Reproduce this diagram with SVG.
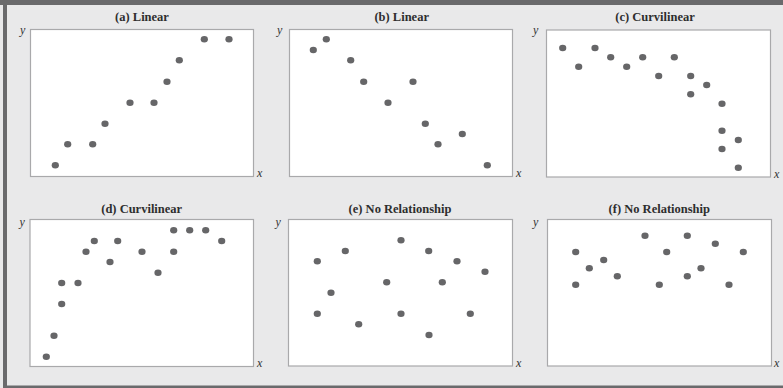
<svg xmlns="http://www.w3.org/2000/svg" width="783" height="388" viewBox="0 0 783 388">
<style>
.bg{fill:#e9e9ea}
.bar{fill:#6a6a6c}
.box{fill:#ffffff;stroke:#a9a9ab;stroke-width:1.2}
.t{font-family:"Liberation Serif","Times New Roman",serif;font-weight:bold;font-size:12.5px;fill:#2e2e2e;text-anchor:middle}
.ax{font-family:"Liberation Serif","Times New Roman",serif;font-style:italic;font-size:12px;fill:#333}
.d{fill:#666668}
</style>
<defs>
<ellipse id="p" rx="3.6" ry="3.2"/>
</defs>
<rect class="bg" x="0" y="0" width="783" height="388"/>
<rect class="bar" x="0" y="0" width="783" height="5"/>
<rect class="bar" x="3" y="0" width="4" height="388"/>
<rect class="bar" x="3" y="385.5" width="780" height="2.5"/>

<g id="panel-a">
<text class="t" x="142" y="20.5">(a) Linear</text>
<rect class="box" x="30.5" y="29.5" width="223" height="147"/>
<text class="ax" x="20" y="34">y</text>
<text class="ax" x="257" y="177">x</text>
<g class="d">
<use href="#p" x="55.3" y="165.3"/><use href="#p" x="67.7" y="144.3"/><use href="#p" x="92.7" y="144.3"/>
<use href="#p" x="105" y="123.7"/><use href="#p" x="130" y="102.7"/><use href="#p" x="154" y="102.7"/>
<use href="#p" x="167" y="81.7"/><use href="#p" x="179.3" y="60.3"/><use href="#p" x="204.3" y="39.3"/>
<use href="#p" x="229" y="39.3"/>
</g>
</g>

<g id="panel-b">
<text class="t" x="401.7" y="20.5">(b) Linear</text>
<rect class="box" x="289.5" y="29.5" width="223" height="147"/>
<text class="ax" x="277" y="34">y</text>
<text class="ax" x="516" y="177">x</text>
<g class="d">
<use href="#p" x="313.3" y="50"/><use href="#p" x="326.3" y="39.3"/><use href="#p" x="350.7" y="60.3"/>
<use href="#p" x="363.7" y="81.7"/><use href="#p" x="413" y="81.7"/><use href="#p" x="388" y="102.7"/>
<use href="#p" x="425.3" y="123.7"/><use href="#p" x="438" y="144.3"/><use href="#p" x="462.3" y="134"/>
<use href="#p" x="487.3" y="165.3"/>
</g>
</g>

<g id="panel-c">
<text class="t" x="655" y="20.5">(c) Curvilinear</text>
<rect class="box" x="546.5" y="30" width="224" height="147"/>
<text class="ax" x="533" y="34">y</text>
<text class="ax" x="774" y="177.5">x</text>
<g class="d">
<use href="#p" x="562.7" y="48"/><use href="#p" x="578.7" y="66.7"/><use href="#p" x="595" y="48"/>
<use href="#p" x="610.7" y="57.3"/><use href="#p" x="626.7" y="66.7"/><use href="#p" x="642.7" y="57.3"/>
<use href="#p" x="658.7" y="76"/><use href="#p" x="674.3" y="57.3"/><use href="#p" x="690.7" y="76"/>
<use href="#p" x="690.7" y="94.3"/><use href="#p" x="706.7" y="85"/><use href="#p" x="722" y="103.7"/>
<use href="#p" x="722" y="130.7"/><use href="#p" x="722" y="149"/><use href="#p" x="738.3" y="140"/>
<use href="#p" x="738.3" y="167.7"/>
</g>
</g>

<g id="panel-d">
<text class="t" x="141.7" y="212.5">(d) Curvilinear</text>
<rect class="box" x="30" y="219.5" width="223.5" height="147"/>
<text class="ax" x="19.5" y="226">y</text>
<text class="ax" x="257" y="367">x</text>
<g class="d">
<use href="#p" x="46.3" y="356.7"/><use href="#p" x="54" y="335.7"/><use href="#p" x="61.7" y="304"/>
<use href="#p" x="61.7" y="283"/><use href="#p" x="78" y="283"/><use href="#p" x="86" y="251.7"/>
<use href="#p" x="94.3" y="241"/><use href="#p" x="110" y="262"/><use href="#p" x="117.7" y="241"/>
<use href="#p" x="142" y="251.7"/><use href="#p" x="158" y="272.7"/><use href="#p" x="173.7" y="251.7"/>
<use href="#p" x="173.7" y="230.3"/><use href="#p" x="189.7" y="230.3"/><use href="#p" x="205.7" y="230.3"/>
<use href="#p" x="221.7" y="241"/>
</g>
</g>

<g id="panel-e">
<text class="t" x="400" y="212.5">(e) No Relationship</text>
<rect class="box" x="288.5" y="219.5" width="224" height="146.5"/>
<text class="ax" x="275.5" y="226">y</text>
<text class="ax" x="516" y="366.5">x</text>
<g class="d">
<use href="#p" x="317.3" y="261.3"/><use href="#p" x="345.3" y="251"/><use href="#p" x="401" y="240.3"/>
<use href="#p" x="428.7" y="251"/><use href="#p" x="457" y="261.3"/><use href="#p" x="485" y="271.7"/>
<use href="#p" x="386.7" y="282.3"/><use href="#p" x="442.3" y="282.3"/><use href="#p" x="331" y="292.7"/>
<use href="#p" x="317.3" y="313.7"/><use href="#p" x="401" y="313.7"/><use href="#p" x="470.3" y="313.7"/>
<use href="#p" x="358.7" y="324.3"/><use href="#p" x="429" y="335"/>
</g>
</g>

<g id="panel-f">
<text class="t" x="659.3" y="212.5">(f) No Relationship</text>
<rect class="box" x="547.5" y="219.5" width="224" height="146.5"/>
<text class="ax" x="533" y="226">y</text>
<text class="ax" x="774" y="366.5">x</text>
<g class="d">
<use href="#p" x="645" y="235.7"/><use href="#p" x="687.3" y="235.7"/><use href="#p" x="715.3" y="243.7"/>
<use href="#p" x="575.7" y="252"/><use href="#p" x="666.7" y="252"/><use href="#p" x="743.3" y="252"/>
<use href="#p" x="603.7" y="260"/><use href="#p" x="589.3" y="268.3"/><use href="#p" x="701" y="268.3"/>
<use href="#p" x="617.3" y="276.3"/><use href="#p" x="687.3" y="276.3"/><use href="#p" x="575.7" y="284.7"/>
<use href="#p" x="659.3" y="284.7"/><use href="#p" x="729" y="284.7"/>
</g>
</g>
</svg>
